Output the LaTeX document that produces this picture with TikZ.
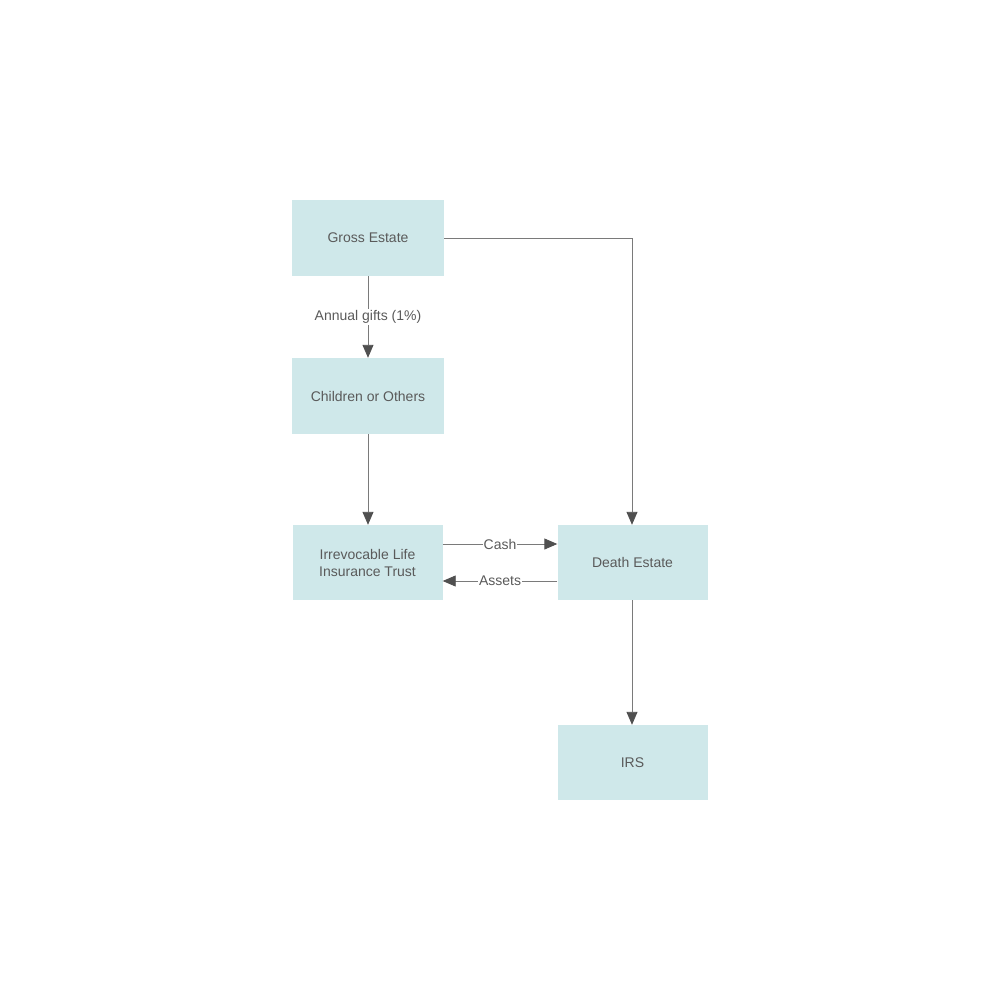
\documentclass[tikz,border=0pt]{standalone}
\usepackage{fontspec}
\setmainfont{Liberation Sans}
\usetikzlibrary{arrows.meta}
\definecolor{boxfill}{HTML}{CFE8EA}
\definecolor{txt}{HTML}{5A5A5A}
\definecolor{ln}{HTML}{7A7A7A}
\definecolor{tip}{HTML}{505050}
\begin{document}
\begin{tikzpicture}[x=1pt,y=-1pt,
  box/.style={fill=boxfill,draw=none,minimum width=#1,minimum height=76pt,inner sep=0pt,
    text=txt,font=\fontsize{14pt}{17pt}\selectfont,align=center},
  box/.default=152pt,
  conn/.style={draw=ln,line width=0.9pt,-{Triangle[length=13pt,width=11pt,fill=tip,color=tip]}},
  lbl/.style={fill=white,text=txt,font=\fontsize{14pt}{17pt}\selectfont,inner sep=1pt}]
\useasboundingbox (0,0) rectangle (1000,1000);
\node[box] (gross) at (368,238) {Gross Estate};
\node[box] (child) at (368,396) {Children or Others};
\node[box=150pt,minimum height=75pt] (ilit) at (367.5,562.5) {Irrevocable Life\\Insurance Trust};
\node[box=150pt,minimum height=75pt] (death) at (632.5,562.5) {Death Estate};
\node[box=150pt,minimum height=75pt] (irs) at (632.5,762.5) {IRS};
\coordinate (corner) at (632,238);
\draw[conn] (gross.east) -- (corner) -- (death.north -| corner);
\draw[conn] (gross.south) -- node[lbl,pos=0.5] {Annual gifts (1\%)} (child.north);
\draw[conn] (child.south) -- (ilit.north -| child.south);
\draw[conn] (ilit.east |- 0,544) -- node[lbl,pos=0.5] {Cash} (death.west |- 0,544);
\draw[conn] (death.west |- 0,581) -- node[lbl,pos=0.5] {Assets} (ilit.east |- 0,581);
\draw[conn] (death.south -| 632,0) -- (irs.north -| 632,0);
\end{tikzpicture}
\end{document}
